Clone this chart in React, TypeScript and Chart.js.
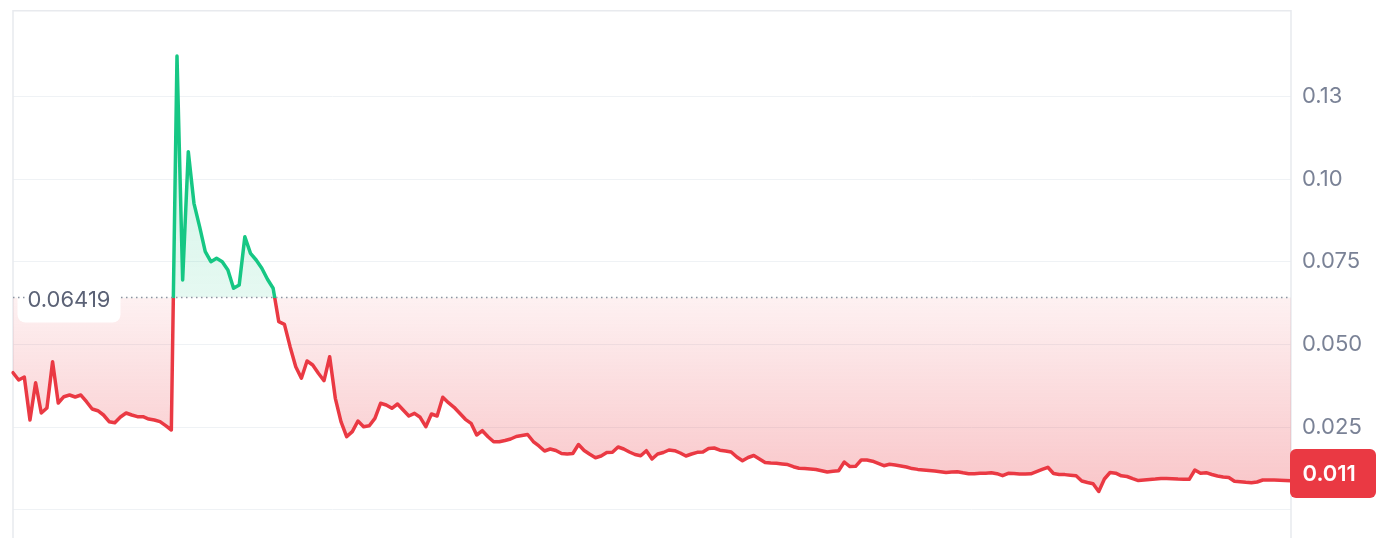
import React, { useEffect, useRef } from 'react';
import { Chart, registerables } from 'chart.js';

Chart.register(...registerables);

const PRICES: number[] = [
  0.04148, 0.03927, 0.04018, 0.02719, 0.03846, 0.02931, 0.03082, 0.0448, 0.03233, 0.03423,
  0.03474, 0.03414, 0.03474, 0.03272, 0.03051, 0.03, 0.0287, 0.02668, 0.02637, 0.0281,
  0.02931, 0.0287, 0.02819, 0.02819, 0.02749, 0.02719, 0.02668, 0.02547, 0.02417, 0.13716,
  0.06949, 0.10825, 0.09266, 0.08559, 0.07804, 0.07502, 0.07604, 0.07502, 0.07251, 0.06698,
  0.06798, 0.08257, 0.07755, 0.07553, 0.07302, 0.0697, 0.06698, 0.05689, 0.0561, 0.04934,
  0.04329, 0.03979, 0.04502, 0.04381, 0.0413, 0.03906, 0.04631, 0.03375, 0.02668, 0.02215,
  0.02366, 0.02689, 0.02517, 0.02547, 0.0277, 0.03224, 0.03172, 0.03073, 0.03202, 0.03021,
  0.0284, 0.02921, 0.02801, 0.02517, 0.029, 0.0284, 0.03405, 0.03242, 0.03103, 0.02921,
  0.0274, 0.02619, 0.02266, 0.02396, 0.02215, 0.02063, 0.02063, 0.021, 0.02145, 0.02221,
  0.02251, 0.02281, 0.02069, 0.01934, 0.01782, 0.01843, 0.01798, 0.01707, 0.01692, 0.01707,
  0.01979, 0.01798, 0.01683, 0.0158, 0.01631, 0.01734, 0.01743, 0.01903, 0.01843, 0.01752,
  0.01677, 0.0164, 0.01792, 0.01541, 0.01692, 0.01737, 0.01813, 0.01792, 0.01722, 0.01631,
  0.01692, 0.01743, 0.01752, 0.01858, 0.01873, 0.01807, 0.01782, 0.01752, 0.01601, 0.01486,
  0.01586, 0.01647, 0.01541, 0.01435, 0.0142, 0.01411, 0.0139, 0.01372, 0.01308, 0.0126,
  0.01251, 0.01239, 0.01224, 0.01187, 0.01148, 0.01172, 0.01187, 0.0145, 0.01314, 0.0132,
  0.01511, 0.01511, 0.01474, 0.01405, 0.01338, 0.01381, 0.0136, 0.01332, 0.01299, 0.01251,
  0.01227, 0.01211, 0.01196, 0.01178, 0.01157, 0.0113, 0.01148, 0.01157, 0.01124, 0.01097,
  0.01097, 0.01109, 0.01109, 0.01127, 0.01097, 0.01036, 0.01109, 0.01103, 0.01088, 0.01085,
  0.01094, 0.01157, 0.01224, 0.0129, 0.01103, 0.01073, 0.01069, 0.01051, 0.01033, 0.00876,
  0.00831, 0.00792, 0.00559, 0.00937, 0.01133, 0.01112, 0.01033, 0.01012, 0.00946, 0.00888,
  0.00903, 0.00918, 0.00934, 0.00955, 0.00952, 0.00946, 0.00934, 0.00927, 0.00927, 0.01208,
  0.01109, 0.01127, 0.01073, 0.01027, 0.00997, 0.00982, 0.00867, 0.00855, 0.00837, 0.00825,
  0.00846, 0.00906, 0.00906, 0.00903, 0.009, 0.00894, 0.00885,
];

const LABELS: string[] = PRICES.map((_, i) => String(i));

const BASELINE = 0.06419;
const BASELINE_LABEL = '0.06419';
const LAST_PRICE = 0.011;
const LAST_LABEL = '0.011';

const Y_TICKS: number[] = [0, 0.025, 0.05, 0.075, 0.1, 0.125];
const Y_TICK_LABELS: string[] = ['', '0.025', '0.050', '0.075', '0.10', '0.13'];
const Y_MIN = -0.00846;
const Y_MAX = 0.15085;

const GREEN = '#16c784';
const RED = '#ea3943';
const FONT = 'Inter, "Noto Sans", sans-serif';

function clamp01(v: number) {
  return Math.max(0, Math.min(1, v));
}

function lineColor(c: any) {
  const chart = c.chart;
  const a = chart.chartArea;
  if (!a || !chart.scales.y) return RED;
  const by = chart.scales.y.getPixelForValue(BASELINE);
  const f = clamp01((by - a.top) / (a.bottom - a.top));
  const g = chart.ctx.createLinearGradient(0, a.top, 0, a.bottom);
  g.addColorStop(0, GREEN);
  g.addColorStop(f, GREEN);
  g.addColorStop(f, RED);
  g.addColorStop(1, RED);
  return g;
}

function aboveFill(c: any) {
  const chart = c.chart;
  const a = chart.chartArea;
  if (!a || !chart.scales.y) return 'rgba(22,199,132,0.15)';
  const by = chart.scales.y.getPixelForValue(BASELINE);
  const g = chart.ctx.createLinearGradient(0, a.top, 0, by);
  g.addColorStop(0, 'rgba(22,199,132,0.24)');
  g.addColorStop(1, 'rgba(22,199,132,0.11)');
  return g;
}

function belowFill(c: any) {
  const chart = c.chart;
  const a = chart.chartArea;
  if (!a || !chart.scales.y) return 'rgba(234,57,67,0.15)';
  const by = chart.scales.y.getPixelForValue(BASELINE);
  const g = chart.ctx.createLinearGradient(0, by, 0, a.bottom);
  g.addColorStop(0, 'rgba(234,57,67,0.07)');
  g.addColorStop(1, 'rgba(234,57,67,0.34)');
  return g;
}

const overlayPlugin = {
  id: 'overlay',
  beforeDatasetsDraw(chart: any) {
    const { ctx, chartArea: a } = chart;
    ctx.save();
    ctx.strokeStyle = '#e8eaee';
    ctx.lineWidth = 1.5;
    ctx.beginPath();
    ctx.moveTo(a.left, a.bottom);
    ctx.lineTo(a.left, a.top);
    ctx.lineTo(a.right, a.top);
    ctx.lineTo(a.right, a.bottom);
    ctx.stroke();
    ctx.restore();
  },
  afterDatasetsDraw(chart: any) {
    const { ctx, chartArea: a, scales } = chart;
    const y = scales.y;
    const by = y.getPixelForValue(BASELINE);
    ctx.save();
    // baseline label box
    ctx.fillStyle = '#ffffff';
    ctx.beginPath();
    ctx.roundRect(a.left + 4.5, by - 14, 103, 39, 8);
    ctx.fill();
    // dotted baseline
    ctx.strokeStyle = '#8d93a1';
    ctx.lineWidth = 1.5;
    ctx.setLineDash([1.5, 3.5]);
    ctx.beginPath();
    ctx.moveTo(a.left, by);
    ctx.lineTo(a.left + 12, by);
    ctx.moveTo(a.left + 108, by);
    ctx.lineTo(a.right, by);
    ctx.stroke();
    ctx.setLineDash([]);
    ctx.font = `22px ${FONT}`;
    ctx.fillStyle = '#5b6276';
    ctx.textBaseline = 'middle';
    ctx.textAlign = 'left';
    ctx.fillText(BASELINE_LABEL, a.left + 14.5, by + 3);
    // last price tag
    const ly = y.getPixelForValue(LAST_PRICE);
    ctx.fillStyle = RED;
    ctx.beginPath();
    ctx.roundRect(a.right - 1, ly - 24.5, 86, 49, 6);
    ctx.fill();
    ctx.fillStyle = '#ffffff';
    ctx.font = `600 22px ${FONT}`;
    ctx.fillText(LAST_LABEL, a.right + 11.5, ly + 0.5);
    ctx.restore();
  },
};

export default function App() {
  const ref = useRef<HTMLCanvasElement | null>(null);

  useEffect(() => {
    if (!ref.current) return;
    const chart = new Chart(ref.current, {
      type: 'line',
      data: {
        labels: LABELS,
        datasets: [
          {
            data: PRICES,
            borderColor: lineColor,
            borderWidth: 3.5,
            borderJoinStyle: 'round',
            borderCapStyle: 'round',
            pointRadius: 0,
            tension: 0,
            fill: { value: BASELINE, above: aboveFill, below: belowFill } as any,
          } as any,
        ],
      },
      options: {
        animation: false,
        responsive: false,
        devicePixelRatio: window.devicePixelRatio || 1,
        layout: { padding: { left: 13, top: 10.7, right: 0, bottom: 0 } },
        plugins: { legend: { display: false }, tooltip: { enabled: false } },
        scales: {
          x: { type: 'category', display: false, offset: false },
          y: {
            position: 'right',
            min: Y_MIN,
            max: Y_MAX,
            afterBuildTicks: (s: any) => {
              s.ticks = Y_TICKS.map((v) => ({ value: v }));
            },
            afterFit: (s: any) => {
              s.width = 107;
              s.paddingTop = 0;
              s.paddingBottom = 0;
            },
            ticks: {
              callback: (v: any) => {
                const i = Y_TICKS.findIndex((t) => Math.abs(t - Number(v)) < 1e-9);
                return i >= 0 ? Y_TICK_LABELS[i] : '';
              },
              color: '#7a8296',
              font: { family: FONT, size: 22 },
              padding: 11,
            },
            grid: { color: '#eff2f5', lineWidth: 1, drawTicks: false },
            border: { display: false },
          },
        },
      },
      plugins: [overlayPlugin],
    });
    return () => chart.destroy();
  }, []);

  return (
    <div style={{ position: 'fixed', left: 0, top: 0, width: 1398, height: 538, background: '#ffffff' }}>
      <canvas ref={ref} width={1398} height={538} style={{ display: 'block', width: 1398, height: 538 }} />
    </div>
  );
}
